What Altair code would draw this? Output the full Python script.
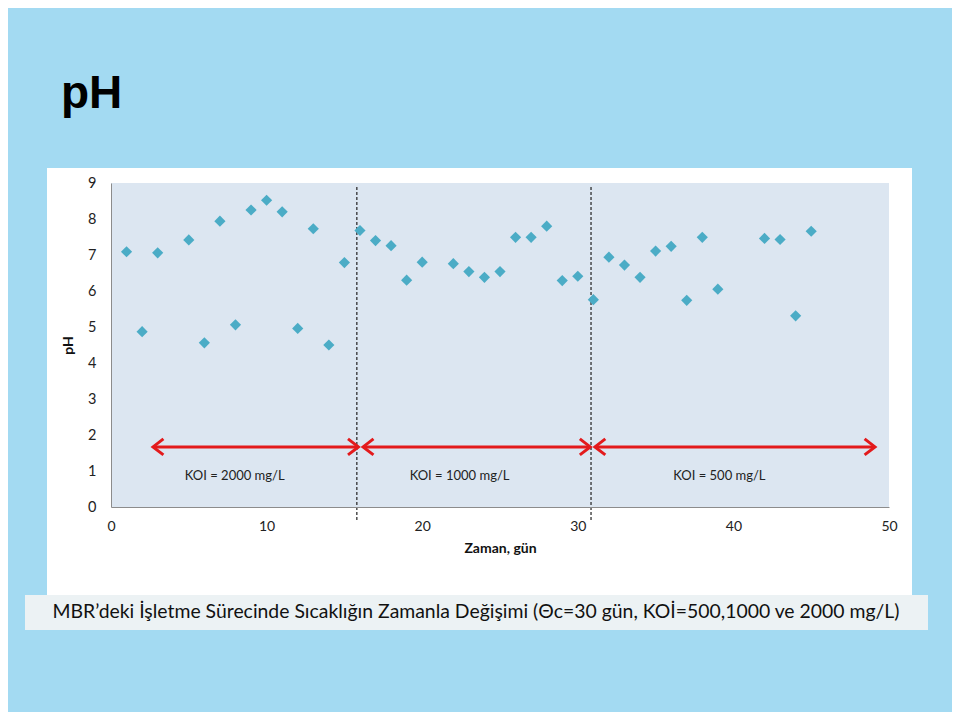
import altair as alt
import pandas as pd

# ---- data ----
days = [1, 2, 3, 5, 6, 7, 8, 9, 10, 11, 12, 13, 14, 15, 16, 17, 18, 19, 20,
        22, 23, 24, 25, 26, 27, 28, 29, 30, 31, 32, 33, 34, 35, 36, 37, 38,
        39, 42, 43, 44, 45]
ph = [7.09, 4.87, 7.06, 7.42, 4.56, 7.94, 5.06, 8.25, 8.52, 8.20, 4.96, 7.73,
      4.50, 6.79, 7.68, 7.40, 7.26, 6.30, 6.80, 6.76, 6.54, 6.38, 6.54, 7.49,
      7.49, 7.80, 6.29, 6.41, 5.76, 6.94, 6.72, 6.38, 7.11, 7.24, 5.74, 7.49,
      6.05, 7.46, 7.43, 5.31, 7.66]

phase_lines = [15.8, 30.85]
arrow_start = [2.7, 16.2, 31.1]
arrow_end = [15.9, 30.8, 49.1]
arrow_level = 1.67
phase_labels = ["KOI = 2000 mg/L", "KOI = 1000 mg/L", "KOI = 500 mg/L"]
label_x = [7.95, 22.4, 39.1]
label_level = 0.86

x_ticks = [0, 10, 20, 30, 40, 50]
y_ticks = list(range(0, 10))

title_text = "pH"
caption_text = "MBR\u2019deki \u0130\u015fletme S\u00fcrecinde S\u0131cakl\u0131\u011f\u0131n Zamanla De\u011fi\u015fimi (\u0398c=30 g\u00fcn, KO\u0130=500,1000 ve 2000 mg/L)"

W, H = 778, 324
FONT = "Lato"

pts = pd.DataFrame({"day": days, "ph": ph})
vl = pd.DataFrame({"x": phase_lines})
arr = pd.DataFrame({"x": arrow_start, "x2": arrow_end, "y": [arrow_level] * 3})
heads_l = pd.DataFrame({"x": arrow_start, "y": [arrow_level] * 3})
heads_r = pd.DataFrame({"x": arrow_end, "y": [arrow_level] * 3})
labs = pd.DataFrame({"x": label_x, "y": [label_level] * 3, "t": phase_labels})
one = pd.DataFrame({"a": [0]})

xs = alt.Scale(domain=[0, 50], nice=False)
ys = alt.Scale(domain=[0, 9], nice=False)

xaxis = alt.Axis(values=x_ticks, title="Zaman, gün", grid=False, ticks=False,
                 domainColor="#8c8c8c", labelFont=FONT, labelFontSize=14,
                 labelColor="#222222", labelPadding=12, titleFont=FONT,
                 titleFontSize=14, titleFontWeight="bold", titleColor="#111111",
                 titlePadding=8, zindex=1, labelFlush=False, labelOverlap=False)
yaxis = alt.Axis(values=y_ticks, title="pH", grid=False, ticks=False,
                 domainColor="#8c8c8c", labelFont=FONT, labelFontSize=14.5,
                 labelColor="#222222", labelPadding=15, titleFont=FONT,
                 titleFontSize=14, titleFontWeight="bold", titleColor="#111111",
                 titlePadding=12, zindex=1, labelOverlap=False)

X = lambda f: alt.X(f, scale=xs, axis=xaxis)
Y = lambda f: alt.Y(f, scale=ys, axis=yaxis)

panel = alt.Chart(one).mark_rect(color="white").encode(
    x=alt.value(-64), x2=alt.value(801), y=alt.value(-15), y2=alt.value(412))
strip = alt.Chart(one).mark_rect(color="#f2f4f4", opacity=0.92).encode(
    x=alt.value(-86), x2=alt.value(817), y=alt.value(412), y2=alt.value(447))
plotbg = alt.Chart(one).mark_rect(color="#dce6f1").encode(
    x=alt.value(0), x2=alt.value(W), y=alt.value(0), y2=alt.value(H))

points = alt.Chart(pts).mark_point(shape="diamond", filled=True, size=125,
                                   color="#4bacc6", opacity=1).encode(
    x=X("day:Q"), y=Y("ph:Q"))

rules = alt.Chart(vl).mark_rule(color="#222222", strokeDash=[3, 2],
                                strokeWidth=1.2).encode(
    x=X("x:Q"), y=alt.value(4), y2=alt.value(337))

arrows = alt.Chart(arr).mark_rule(color="#e31a1c", strokeWidth=3).encode(
    x=X("x:Q"), x2="x2:Q", y=Y("y:Q"))
hl = alt.Chart(heads_l).mark_point(
    shape="M1.3,-1L0,0L1.3,1", size=256, filled=False, color="#e31a1c",
    strokeWidth=3, opacity=1).encode(x=X("x:Q"), y=Y("y:Q"))
hr = alt.Chart(heads_r).mark_point(
    shape="M-1.3,-1L0,0L-1.3,1", size=256, filled=False, color="#e31a1c",
    strokeWidth=3, opacity=1).encode(x=X("x:Q"), y=Y("y:Q"))

labels = alt.Chart(labs).mark_text(font=FONT, fontSize=13, color="#222222").encode(
    x=X("x:Q"), y=Y("y:Q"), text="t:N")

title = alt.Chart(one).mark_text(text=title_text, font="Liberation Sans",
                                 fontWeight="bold", fontSize=46, align="left",
                                 baseline="alphabetic", color="black").encode(
    x=alt.value(-50), y=alt.value(-75))
caption = alt.Chart(one).mark_text(text=caption_text, font=FONT, fontSize=19.4,
                                   align="center", baseline="middle",
                                   color="#111111").encode(
    x=alt.value(365), y=alt.value(429))

chart = alt.layer(panel, strip, plotbg, rules, arrows, hl, hr, labels, points,
                  title, caption).properties(
    width=W, height=H,
    autosize=alt.AutoSizeParams(type="none"),
    padding={"left": 103, "top": 175, "right": 63, "bottom": 205},
    background="#a3daf2",
).configure_view(stroke=None)

chart.save("out.html", embed_options={"renderer": "svg", "actions": False})
